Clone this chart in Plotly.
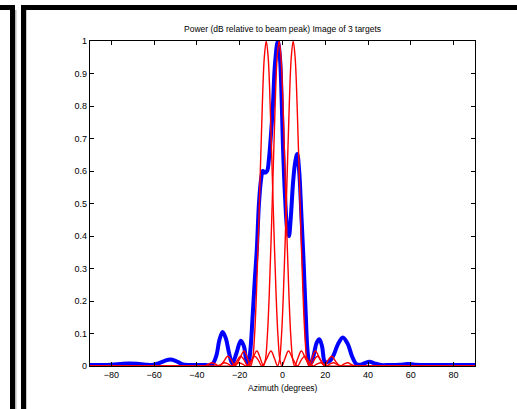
import plotly.graph_objects as go

# ---------------- data ----------------
blue_x = [-90, -85, -80, -76, -72, -68, -64, -61, -58, -55, -52.5, -50, -47, -44, -40, -36, -33, -31,
          -29.5, -28, -26.5, -25, -23.5, -21.5, -19.5, -18, -17, -16, -15, -14, -13, -12, -11, -10,
          -9.2, -8.2, -7.2, -6.3, -5.3, -4.5, -3.5, -2.2, -1.2, -0.4, 0.2, 1.2, 2.2, 3.0, 3.8, 5.0,
          6.0, 6.9, 7.8, 8.8, 9.8, 10.8, 11.8, 12.6, 13.5, 14.8, 16, 17.3, 18.5, 19.8, 21, 22.5, 24,
          26, 28.2, 30.5, 32.5, 34.5, 36.5, 38.5, 40.7, 43, 46, 50, 55, 58.5, 62, 70, 80, 90]
blue_y = [0.003, 0.003, 0.004, 0.006, 0.008, 0.007, 0.004, 0.003, 0.008, 0.016, 0.02, 0.016, 0.006,
          0.003, 0.003, 0.003, 0.004, 0.03, 0.08, 0.105, 0.085, 0.04, 0.008, 0.04, 0.078, 0.06, 0.02,
          0.006, 0.05, 0.15, 0.26, 0.36, 0.5, 0.575, 0.6, 0.595, 0.6, 0.64, 0.72, 0.8, 0.93, 1.0,
          0.95, 0.82, 0.68, 0.52, 0.42, 0.40, 0.45, 0.57, 0.63, 0.652, 0.6, 0.47, 0.33, 0.17, 0.04,
          0.01, 0.01, 0.04, 0.072, 0.082, 0.06, 0.012, 0.012, 0.018, 0.035, 0.068, 0.088, 0.068,
          0.03, 0.006, 0.004, 0.009, 0.013, 0.008, 0.003, 0.003, 0.004, 0.006, 0.004, 0.003, 0.003,
          0.003]

# shared value profile of the three single-target beams (red)
beam_y = [0, 0, 0, 0.004, 0.01, 0.006, 0, 0.012, 0.03, 0.019, 0, 0.017, 0.046, 0.024, 0, 0.019,
          0.09, 0.22, 0.405, 0.615, 0.81, 0.95, 1, 0.95, 0.81, 0.615, 0.405, 0.22, 0.09, 0.019, 0,
          0.024, 0.046, 0.017, 0, 0.019, 0.03, 0.012, 0, 0.006, 0.01, 0.004, 0, 0, 0]

red1_x = [-90, -47.6, -36.8, -35.0, -33.1, -31.3, -29.5, -27.7, -25.6, -24.0, -22.2, -20.4, -18.0,
          -16.4, -14.9, -14.0, -13.1, -12.2, -11.25, -10.3, -9.4, -8.5, -7.6, -6.7, -5.8, -4.9,
          -3.95, -3.0, -2.1, -1.2, -0.3, 1.2, 2.8, 5.2, 7.0, 8.8, 10.4, 12.5, 14.3, 16.1, 17.9, 19.8,
          21.6, 32.4, 90]
red2_x = [-90, -41.6, -30.8, -29.0, -27.1, -25.3, -23.5, -21.7, -19.6, -18.0, -16.2, -14.4, -12.0,
          -10.4, -8.9, -8.0, -7.1, -6.2, -5.25, -4.3, -3.4, -2.5, -1.6, -0.7, 0.2, 1.1, 2.05, 3.0,
          3.9, 4.8, 5.7, 7.2, 8.8, 11.2, 13.0, 14.8, 16.4, 18.5, 20.3, 22.1, 23.9, 25.8, 27.6, 38.4, 90]
red3_x = [-90, -35.0, -24.2, -22.4, -20.5, -18.7, -16.9, -15.1, -13.0, -11.4, -9.6, -7.8, -5.4,
          -3.8, -2.3, -1.4, -0.5, 0.4, 1.35, 2.3, 3.2, 4.1, 5.0, 5.9, 6.8, 7.7, 8.65, 9.6, 10.5,
          11.4, 12.3, 13.8, 15.4, 17.8, 19.6, 21.4, 23.0, 25.1, 26.9, 28.7, 30.5, 32.4, 34.2, 45.0, 90]

x_ticks = [-80, -60, -40, -20, 0, 20, 40, 60, 80]
y_ticks = [0, 0.1, 0.2, 0.3, 0.4, 0.5, 0.6, 0.7, 0.8, 0.9, 1]
y_ticktext = ["0", "0.1", "0.2", "0.3", "0.4", "0.5", "0.6", "0.7", "0.8", "0.9", "1"]

title_text = "Power (dB relative to beam peak) Image of 3 targets"
xlabel_text = "Azimuth (degrees)"

# ---------------- figure ----------------
W, H = 517, 409
L, R, T, B = 90, 475, 41, 366   # plot-area pixel box
FONT = "Liberation Sans, Arial, Helvetica, sans-serif"

def px(x):
    return (x - L) / (R - L)

def py(y):
    return (B - y) / (B - T)

fig = go.Figure()
fig.add_trace(go.Scatter(x=blue_x, y=blue_y, mode="lines",
                         line=dict(color="#0000ff", width=4, shape="spline", smoothing=1)))
for rx in (red1_x, red2_x, red3_x):
    fig.add_trace(go.Scatter(x=rx, y=beam_y, mode="lines",
                             line=dict(color="#ff0000", width=1.4, shape="spline", smoothing=1)))

axis_common = dict(showgrid=False, zeroline=False, showline=True, linecolor="black", linewidth=1.2,
                   mirror="ticks", ticks="inside", ticklen=4, tickwidth=1, tickcolor="black",
                   tickfont=dict(family=FONT, size=9, color="black"))
fig.update_xaxes(range=[-90, 90], tickvals=x_ticks, **axis_common)
fig.update_yaxes(range=[0, 1], tickvals=y_ticks, ticktext=y_ticktext, **axis_common)

shapes = []
def rect(x0, y0, x1, y1, color):
    shapes.append(dict(type="rect", xref="paper", yref="paper",
                       x0=px(x0), x1=px(x1), y0=py(y1), y1=py(y0),
                       fillcolor=color, line=dict(width=0), layer="above"))

rect(10, 5, 15, 409, "black")
rect(0, 5, 15, 10, "black")
rect(15, 10, 16.5, 409, "#b8b8b8")
rect(21, 5, 26, 409, "black")
rect(21, 5, 517, 10, "black")
rect(26, 10, 27, 409, "#c8c8c8")

fig.update_layout(
    width=W, height=H,
    margin=dict(l=L, r=W - R, t=T, b=H - B),
    paper_bgcolor="white", plot_bgcolor="white",
    showlegend=False,
    title=dict(text=title_text, x=0.5, xref="paper", xanchor="center",
               y=1 - 29 / H, yref="container", yanchor="middle",
               font=dict(family=FONT, size=8.5, color="black")),
    shapes=shapes,
    annotations=[dict(text=xlabel_text, x=0.5, xref="paper", y=py(388), yref="paper",
                      xanchor="center", yanchor="middle", showarrow=False,
                      font=dict(family=FONT, size=8.5, color="black"))],
)

fig.write_html("out.html")
